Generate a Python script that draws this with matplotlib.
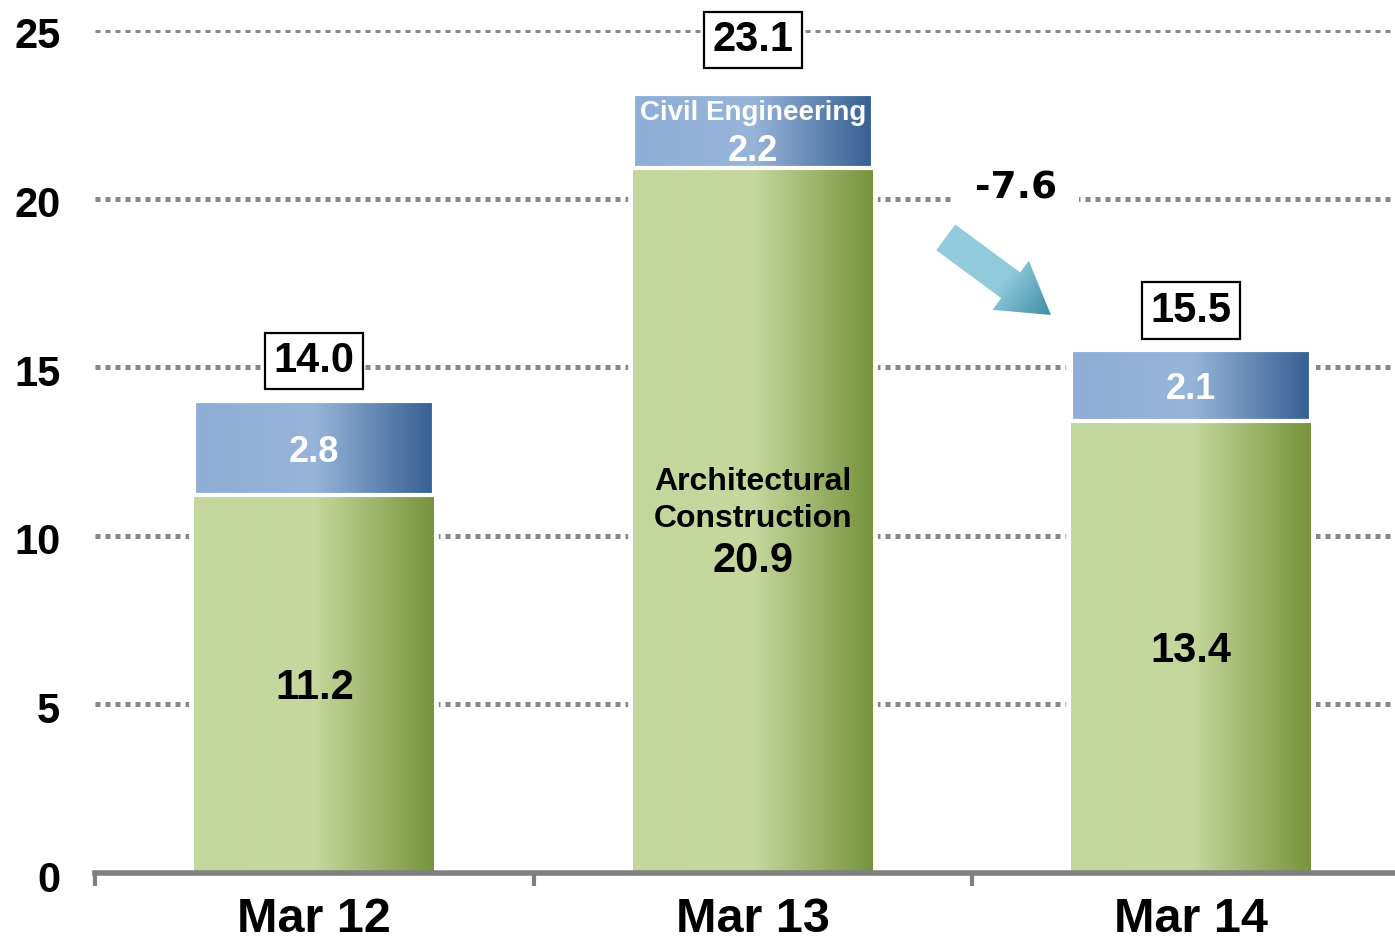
import numpy as np
import matplotlib
matplotlib.use('Agg')
import matplotlib.pyplot as plt
from matplotlib.colors import LinearSegmentedColormap
from matplotlib.patches import FancyArrowPatch
import matplotlib.transforms as mtransforms

plt.rcParams['font.family'] = ['Liberation Sans', 'DejaVu Sans']

# data
periods = ['Mar 12', 'Mar 13', 'Mar 14']
architectural = [11.2, 20.9, 13.4]
civil = [2.8, 2.2, 2.1]
totals = [14.0, 23.1, 15.5]
change_label = '-7.6'
yticks = [0, 5, 10, 15, 20, 25]

green_cmap = LinearSegmentedColormap.from_list('g', ['#C3D69B', '#C6D89E', '#77933C'])
blue_cmap = LinearSegmentedColormap.from_list('b', ['#8FAED6', '#97B5D9', '#365F92'])
arrow_cmap = LinearSegmentedColormap.from_list('a', [(0, '#93CDDD'), (0.55, '#90CADB'), (1, '#3A8AA3')])
grad = np.linspace(0, 1, 256).reshape(1, -1)

fig = plt.figure(figsize=(13.95, 9.39), dpi=100)
ax = fig.add_axes([95 / 1395, 66 / 939, 1300 / 1395, 843 / 939])

x = np.arange(len(periods))
w = 0.547

# white backdrop that interrupts the gridlines around each bar
ax.bar(x, architectural, w, color='white', edgecolor='white', linewidth=7, zorder=2)
ax.bar(x, civil, w, bottom=architectural, color='white', edgecolor='white', linewidth=7, zorder=2)

bars_g = ax.bar(x, architectural, w, color='none', zorder=3)
bars_b = ax.bar(x, civil, w, bottom=architectural, color='none', zorder=3)
for bars, cmap in [(bars_g, green_cmap), (bars_b, blue_cmap)]:
    for p in bars:
        x0, y0 = p.get_x(), p.get_y()
        ax.imshow(grad, cmap=cmap, aspect='auto', interpolation='bilinear',
                  extent=(x0, x0 + p.get_width(), y0, y0 + p.get_height()), zorder=3)
# thin white separators
ax.bar(x, civil, w, bottom=architectural, fill=False, edgecolor='white', linewidth=3, zorder=4)

ax.set_xlim(-0.5, -0.5 + 1300 / 438.5)
ax.set_ylim(0, 25)

# grid
ax.set_yticks(yticks)
ax.yaxis.grid(True, color='#878787', linewidth=3.6, linestyle=(0, (1, 1)), zorder=0)
ax.set_axisbelow(True)
for s in ['left', 'top', 'right']:
    ax.spines[s].set_visible(False)
ax.spines['bottom'].set_color('#808080')
ax.spines['bottom'].set_linewidth(4)
ax.spines['bottom'].set_zorder(5)

ax.tick_params(axis='y', length=0, pad=25, labelsize=30)
ax.set_xticks(x)
ax.set_xticklabels(periods, fontsize=35, fontweight='bold')
ax.set_xticks(np.arange(len(periods)) - 0.5, minor=True)
ax.tick_params(axis='x', which='major', length=0, pad=17)
ax.tick_params(axis='x', which='minor', length=9, width=3, color='#808080', direction='out')
for lbl in ax.get_yticklabels():
    lbl.set_fontweight('bold')
    lbl.set_transform(lbl.get_transform() + mtransforms.ScaledTranslation(0, -3 / 100, fig.dpi_scale_trans))

dy = -0.12  # text baseline nudge

# segment labels
for i in range(len(periods)):
    if i == 1:
        ax.text(x[i], 11.18 + dy, 'Architectural\nConstruction', ha='center', va='center',
                fontsize=23, fontweight='bold', linespacing=1.3, zorder=6)
        ax.text(x[i], 9.37 + dy, f'{architectural[i]:.1f}', ha='center', va='center',
                fontsize=30, fontweight='bold', zorder=6)
        ax.text(x[i], 22.66 + dy, 'Civil Engineering', ha='center', va='center',
                fontsize=20, fontweight='bold', color='white', zorder=6)
        ax.text(x[i], 21.53 + dy, f'{civil[i]:.1f}', ha='center', va='center',
                fontsize=26, fontweight='bold', color='white', zorder=6)
    else:
        ax.text(x[i], architectural[i] / 2 + dy, f'{architectural[i]:.1f}', ha='center', va='center',
                fontsize=30, fontweight='bold', zorder=6)
        ax.text(x[i], architectural[i] + civil[i] / 2 + dy, f'{civil[i]:.1f}', ha='center', va='center',
                fontsize=26, fontweight='bold', color='white', zorder=6)

# totals in boxes
offsets = [1.3, 1.72, 1.3]
for i, t in enumerate(totals):
    ax.text(x[i], t + offsets[i] + dy, f'{t:.1f}', ha='center', va='center', fontsize=30,
            fontweight='bold', zorder=6,
            bbox=dict(boxstyle='square,pad=0.2', fc='white', ec='black', lw=1.6))

# change annotation
ax.text(1.60, 20.3, change_label, ha='center', va='center', fontsize=27, fontweight='bold',
        family='DejaVu Sans', zorder=6,
        bbox=dict(boxstyle='square,pad=0.6', fc='white', ec='none'))

tail = (1.435, 18.9)
tip = (1.685, 16.5)
arrow = FancyArrowPatch(tail, tip, arrowstyle='simple,head_length=3.6,head_width=4.4,tail_width=2.3',
                        mutation_scale=10, fc='none', ec='none', zorder=6)
ax.add_patch(arrow)
# gradient along the arrow direction, clipped to the arrow shape
ex = (1.38, 1.72, 16.2, 19.5)
gx, gy = np.meshgrid(np.linspace(ex[0], ex[1], 200), np.linspace(ex[2], ex[3], 200))
ux, uy = (tip[0] - tail[0]) * 438.5, (tip[1] - tail[1]) * 33.72
proj = ((gx - tail[0]) * 438.5 * ux + (gy - tail[1]) * 33.72 * uy) / (ux ** 2 + uy ** 2)
im = ax.imshow(np.clip(proj, 0, 1), cmap=arrow_cmap, vmin=0, vmax=1, origin='lower',
               aspect='auto', extent=ex, interpolation='bilinear', zorder=6)
im.set_clip_path(arrow)

ax.set_xlim(-0.5, -0.5 + 1300 / 438.5)
ax.set_ylim(0, 25)

fig.savefig('out.png', dpi=100)
